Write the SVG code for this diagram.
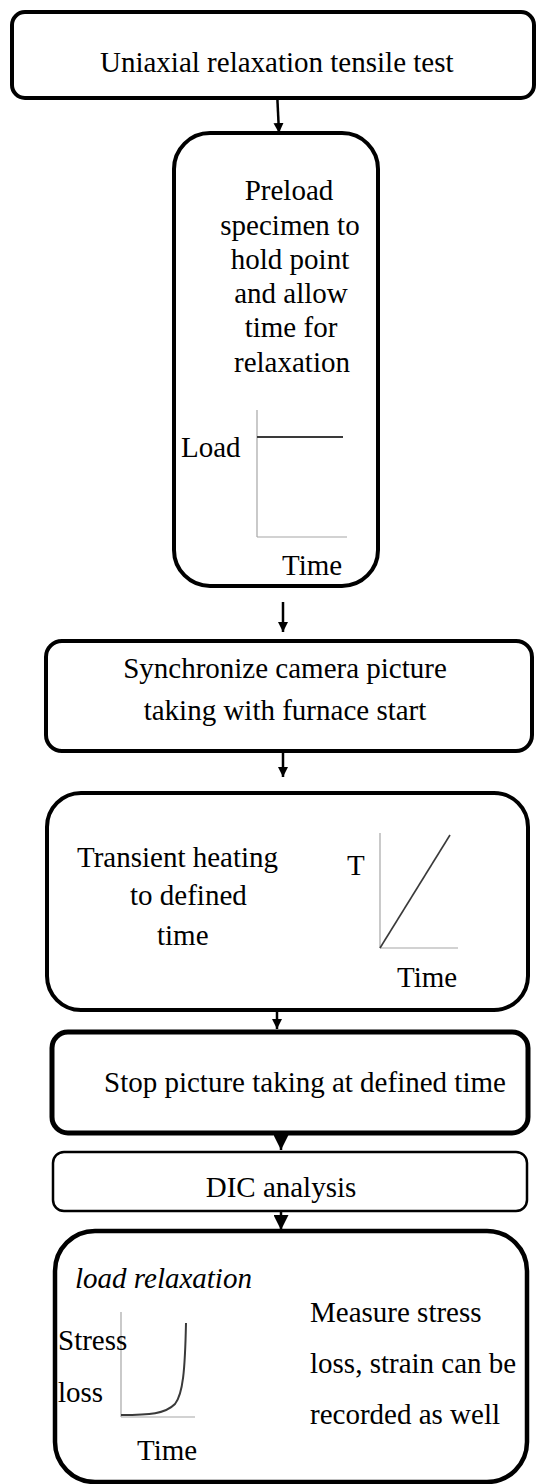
<svg xmlns="http://www.w3.org/2000/svg" width="536" height="1484" viewBox="0 0 536 1484">
<defs>
<style>
.box{fill:#fff;stroke:#000;stroke-width:4}
.c{text-anchor:middle}
.ax{stroke:#a6a6a6;stroke-width:1.2;fill:none}
.dl{stroke:#3a3a3a;stroke-width:2;fill:none}
.cn{stroke:#000;stroke-width:2.5;fill:none}
</style>
<marker id="ah" viewBox="0 0 10 10" refX="10" refY="5" markerWidth="4" markerHeight="5" markerUnits="strokeWidth" orient="auto">
<path d="M0,0 L10,5 L0,10 Z" fill="#000"/>
</marker>
<marker id="ahb" viewBox="0 0 10 10" refX="10" refY="5" markerWidth="6.5" markerHeight="6" markerUnits="strokeWidth" orient="auto">
<path d="M0,0 L10,5 L0,10 Z" fill="#000"/>
</marker>
</defs>
<rect width="536" height="1484" fill="#fff"/>

<g id="connectors">
<line class="cn" x1="277" y1="91" x2="279" y2="133" marker-end="url(#ah)"/>
<line class="cn" x1="283" y1="602" x2="283" y2="632" marker-end="url(#ah)"/>
<line class="cn" x1="283" y1="752" x2="283" y2="777" marker-end="url(#ah)"/>
<line class="cn" x1="277" y1="1003" x2="277" y2="1029" marker-end="url(#ah)"/>
<line class="cn" x1="281" y1="1127" x2="281" y2="1150" marker-end="url(#ahb)"/>
<line class="cn" x1="281" y1="1206" x2="281" y2="1230" marker-end="url(#ahb)"/>
</g>

<g id="nodes" font-family="Liberation Serif" font-size="29" fill="#000">
<g id="node1">
<rect class="box" x="12" y="12" width="522" height="86" rx="13"/>
<text x="100" y="72" font-family="Liberation Serif">Uniaxial relaxation tensile test</text>
</g>

<g id="node2">
<rect class="box" x="174" y="133" width="204" height="453" rx="36"/>
<text class="c" x="289" y="200" font-family="Liberation Serif">Preload</text>
<text class="c" x="290" y="235" font-family="Liberation Serif">specimen to</text>
<text class="c" x="290" y="269" font-family="Liberation Serif">hold point</text>
<text class="c" x="291" y="303" font-family="Liberation Serif">and allow</text>
<text class="c" x="291" y="337" font-family="Liberation Serif">time for</text>
<text class="c" x="292" y="372" font-family="Liberation Serif">relaxation</text>
<line class="ax" x1="257" y1="410" x2="257" y2="537"/>
<line class="ax" x1="257" y1="537" x2="347" y2="537"/>
<line class="dl" x1="257" y1="437" x2="343" y2="437"/>
<text x="181" y="457" font-family="Liberation Serif">Load</text>
<text x="282" y="575" font-family="Liberation Serif">Time</text>
</g>

<g id="node3">
<rect class="box" x="46" y="641" width="486" height="110" rx="16"/>
<text class="c" x="285" y="678" font-family="Liberation Serif">Synchronize camera picture</text>
<text class="c" x="285" y="720" font-family="Liberation Serif">taking with furnace start</text>
</g>

<g id="node4">
<rect class="box" x="47" y="793" width="481" height="217" rx="34"/>
<text x="77" y="867" font-family="Liberation Serif">Transient heating</text>
<text x="130" y="905" font-family="Liberation Serif">to defined</text>
<text x="157" y="945" font-family="Liberation Serif">time</text>
<line class="ax" x1="380" y1="833" x2="380" y2="948"/>
<line class="ax" x1="380" y1="948" x2="458" y2="948"/>
<line class="dl" x1="380" y1="948" x2="450" y2="835" style="stroke-width:1.6"/>
<text x="347" y="875" font-family="Liberation Serif">T</text>
<text x="397" y="987" font-family="Liberation Serif">Time</text>
</g>

<g id="node5">
<rect class="box" x="52" y="1032" width="476" height="101" rx="16" style="stroke-width:5"/>
<text x="104" y="1092" font-family="Liberation Serif">Stop picture taking at defined time</text>
</g>

<g id="node6">
<rect class="box" x="53" y="1152" width="474" height="59" rx="11" style="stroke-width:2.5"/>
<text class="c" x="281" y="1197" font-family="Liberation Serif">DIC analysis</text>
</g>

<g id="node7">
<rect class="box" x="55" y="1231" width="472" height="251" rx="40" style="stroke-width:4.5"/>
<text x="75" y="1288" font-family="Liberation Serif" font-style="italic">load relaxation</text>
<line class="ax" x1="121" y1="1312" x2="121" y2="1417"/>
<line class="ax" x1="121" y1="1417" x2="195" y2="1417"/>
<path class="dl" d="M121,1415 C150,1415 165,1414 175,1404 C183,1394 185,1370 186,1323"/>
<text x="58" y="1350" font-family="Liberation Serif">Stress</text>
<text x="58" y="1402" font-family="Liberation Serif">loss</text>
<text x="137" y="1460" font-family="Liberation Serif">Time</text>
<text x="310" y="1322" font-family="Liberation Serif">Measure stress</text>
<text x="310" y="1373" font-family="Liberation Serif">loss, strain can be</text>
<text x="310" y="1424" font-family="Liberation Serif">recorded as well</text>
</g>
</g>
</svg>
